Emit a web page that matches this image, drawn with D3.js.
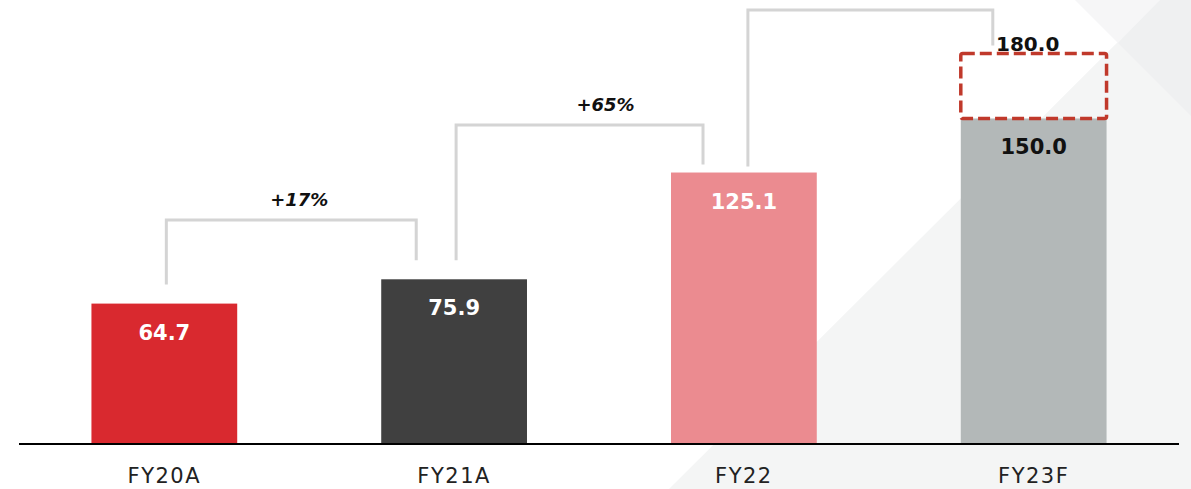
<!DOCTYPE html>
<html>
<head>
<meta charset="utf-8">
<script src="https://cdn.jsdelivr.net/npm/d3@7/dist/d3.min.js"></script>
<style>
  html, body { margin: 0; padding: 0; background: #ffffff; }
  svg { display: block; }
</style>
</head>
<body>
<svg id="chart" width="1191" height="489"></svg>
<script>
// Revenue by fiscal year (actuals, estimate, forecast)
const categories = ["FY20A", "FY21A", "FY22", "FY23F"];
const values = [64.7, 75.9, 125.1, 150.0];
const barColors = ["#d9292f", "#404040", "#eb8b90", "#b3b8b8"];
const labelColors = ["#ffffff", "#ffffff", "#ffffff", "#111111"];
// Upside target for the forecast year
const targetCategory = "FY23F";
const targetValue = 180.0;
// Growth brackets between years
const growthFrom = ["FY20A", "FY21A", "FY22"];
const growthTo = ["FY21A", "FY22", "FY23F"];
const growthLabels = ["+17%", "+65%", ""];

const svg = d3.select("#chart");

// Soft grey backdrop facets on the right
const bg = svg.append("g");
bg.append("polygon").attr("points", "1160,0 1191,0 1191,489 669,489").attr("fill", "#f4f5f5");
bg.append("polygon").attr("points", "1075,0 1160,0 1118,43").attr("fill", "#f6f6f7");
bg.append("polygon").attr("points", "1160,0 1191,0 1191,116 1118,43").attr("fill", "#eff0f1");

const baseline = 444;
const x = d3.scaleBand().domain(categories).range([19, 1179]).paddingInner(0.497).paddingOuter(0.25);
const y = d3.scaleLinear().domain([0, 204.6]).range([baseline, 0]);
const bw = x.bandwidth();

const data = categories.map((c, i) => ({ c, v: values[i], color: barColors[i], lc: labelColors[i] }));

// Bars
svg.append("g").selectAll("rect").data(data).join("rect")
  .attr("x", d => x(d.c))
  .attr("y", d => y(d.v))
  .attr("width", bw)
  .attr("height", d => baseline - y(d.v))
  .attr("fill", d => d.color);

// Dashed target outline above the forecast bar
svg.append("rect")
  .attr("x", x(targetCategory))
  .attr("y", y(targetValue))
  .attr("width", bw)
  .attr("height", y(values[categories.indexOf(targetCategory)]) - y(targetValue))
  .attr("rx", 2)
  .attr("fill", "none")
  .attr("stroke", "#c0392b")
  .attr("stroke-width", 3.5)
  .attr("stroke-dasharray", "12,5");

// Value labels inside bars
const valueFont = "'DejaVu Sans', sans-serif";
svg.append("g").selectAll("text").data(data).join("text")
  .attr("x", d => x(d.c) + bw / 2)
  .attr("y", d => y(d.v) + 36)
  .attr("text-anchor", "middle")
  .attr("font-family", valueFont)
  .attr("font-weight", "bold")
  .attr("font-size", 21)
  .attr("fill", d => d.lc)
  .text(d => d.v.toFixed(1));

svg.append("text")
  .attr("x", x(targetCategory) + bw / 2 - 6)
  .attr("y", y(targetValue) - 2)
  .attr("text-anchor", "middle")
  .attr("font-family", valueFont)
  .attr("font-weight", "bold")
  .attr("font-size", 20)
  .attr("fill", "#111111")
  .text(targetValue.toFixed(1));

// Growth brackets
const bracketTop = [220, 125, 10];
const leftOffset = [2, 2, 4];
const rightInset = [35, 32, 32];
const leftDrop = [19, 19, 6];
const rightDrop = [19, 8, 8];
const labelDx = [8, 26, 0];
const bg2 = svg.append("g");
growthFrom.forEach((from, i) => {
  const to = growthTo[i];
  const fromTop = y(values[categories.indexOf(from)]);
  const toTop = to === targetCategory ? y(targetValue) : y(values[categories.indexOf(to)]);
  const x1 = x(from) + bw / 2 + leftOffset[i];
  const x2 = x(to) + rightInset[i];
  const t = bracketTop[i];
  bg2.append("path")
    .attr("d", `M${x1},${fromTop - leftDrop[i]}V${t}H${x2}V${toTop - rightDrop[i]}`)
    .attr("fill", "none")
    .attr("stroke", "#d4d4d4")
    .attr("stroke-width", 3);
  if (growthLabels[i]) {
    bg2.append("text")
      .attr("x", (x1 + x2) / 2 + labelDx[i])
      .attr("y", t - 14)
      .attr("text-anchor", "middle")
      .attr("font-family", valueFont)
      .attr("font-weight", "bold")
      .attr("font-style", "italic")
      .attr("font-size", 18)
      .attr("fill", "#111111")
      .text(growthLabels[i]);
  }
});

// Baseline axis
const axis = svg.append("g").attr("transform", `translate(0,${baseline})`)
  .call(d3.axisBottom(x).tickSize(0));
axis.select(".domain").attr("stroke", "#000").attr("stroke-width", 2.2).attr("d", "M19,0H1179");
axis.selectAll(".tick text")
  .attr("font-family", "'DejaVu Sans', sans-serif")
  .attr("font-size", 21)
  .attr("letter-spacing", 1.5)
  .attr("fill", "#222")
  .attr("dy", "0")
  .attr("y", 39);
</script>
</body>
</html>
